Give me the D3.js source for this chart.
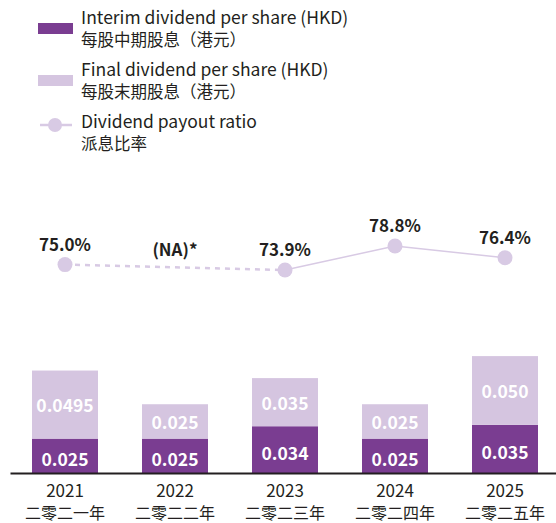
<!DOCTYPE html>
<html>
<head>
<meta charset="utf-8">
<script src="https://cdn.jsdelivr.net/npm/d3@7"></script>
<style>
  body { margin: 0; background: #fff; }
  svg { display: block; font-family: "Noto Sans CJK SC", "Noto Sans", sans-serif; }
</style>
</head>
<body>
<svg id="chart" width="556" height="523"></svg>
<script>
const years = ["2021", "2022", "2023", "2024", "2025"];
const yearsZh = ["二零二一年", "二零二二年", "二零二三年", "二零二四年", "二零二五年"];
const interim = [0.025, 0.025, 0.034, 0.025, 0.035];
const finalDiv = [0.0495, 0.025, 0.035, 0.025, 0.050];
const interimLabels = ["0.025", "0.025", "0.034", "0.025", "0.035"];
const finalLabels = ["0.0495", "0.025", "0.035", "0.025", "0.050"];
const payout = [75.0, null, 73.9, 78.8, 76.4];
const payoutLabels = ["75.0%", "(NA)*", "73.9%", "78.8%", "76.4%"];

const theme = {
  interim: "#7a3d91",
  final: "#d5c5e0",
  line: "#d8cae4",
  text: "#231f20"
};

const svg = d3.select("#chart");

// x band scale for years
const x = d3.scaleBand().domain(years).range([10, 560]).paddingInner(0.4).paddingOuter(0.2);

// y scale for dividend amounts
const y = d3.scaleLinear().domain([0, 0.085]).range([473, 356.1]);

// y scale for payout ratio
const yRatio = d3.scaleLinear().domain([73.9, 78.8]).range([270, 246]);

const rows = years.map((yr, i) => ({
  year: yr,
  interim: interim[i],
  final: finalDiv[i],
  interimLabel: interimLabels[i],
  finalLabel: finalLabels[i]
}));

// Stacked bars
const bars = svg.append("g").attr("class", "bars");

bars.selectAll(".bar-interim")
  .data(rows)
  .enter()
  .append("rect")
  .attr("class", "bar-interim")
  .attr("x", (d) => x(d.year))
  .attr("width", x.bandwidth())
  .attr("y", (d) => y(d.interim))
  .attr("height", (d) => y(0) - y(d.interim))
  .attr("fill", theme.interim);

bars.selectAll(".bar-final")
  .data(rows)
  .enter()
  .append("rect")
  .attr("class", "bar-final")
  .attr("x", (d) => x(d.year))
  .attr("width", x.bandwidth())
  .attr("y", (d) => y(d.interim + d.final))
  .attr("height", (d) => y(d.interim) - y(d.interim + d.final))
  .attr("fill", theme.final);

// Bar value labels
bars.selectAll(".lbl-interim")
  .data(rows)
  .enter()
  .append("text")
  .attr("class", "lbl-interim")
  .attr("x", (d) => x(d.year) + x.bandwidth() / 2)
  .attr("y", (d) => (y(0) + y(d.interim)) / 2 + 10)
  .attr("text-anchor", "middle")
  .attr("fill", "#fff")
  .style("font-size", "17.5px")
  .style("font-weight", "bold")
  .text((d) => d.interimLabel);

bars.selectAll(".lbl-final")
  .data(rows)
  .enter()
  .append("text")
  .attr("class", "lbl-final")
  .attr("x", (d) => x(d.year) + x.bandwidth() / 2)
  .attr("y", (d) => (y(d.interim) + y(d.interim + d.final)) / 2 + 7.5)
  .attr("text-anchor", "middle")
  .attr("fill", "#fff")
  .style("font-size", "17.5px")
  .style("font-weight", "bold")
  .text((d) => d.finalLabel);

// X axis
const xAxis = svg.append("g")
  .attr("class", "x-axis")
  .attr("transform", `translate(0,${y(0)})`)
  .call(d3.axisBottom(x).tickSize(0).tickSizeOuter(0));

xAxis.select(".domain").attr("stroke", theme.text).attr("stroke-width", 2);

xAxis.selectAll(".tick text").each(function (d, i) {
  const t = d3.select(this)
    .attr("y", 0)
    .attr("dy", null)
    .attr("fill", theme.text)
    .style("font-family", '"Noto Sans CJK SC", sans-serif')
    .text(null);
  t.append("tspan").attr("x", 0).attr("y", 24).style("font-size", "17px").text(d);
  t.append("tspan").attr("x", 0).attr("y", 45.5).style("font-size", "16px").text(yearsZh[i]);
});

// Payout ratio line
const pts = years.map((yr, i) => ({ year: yr, value: payout[i], label: payoutLabels[i] }));
const known = pts.filter((d) => d.value !== null);
const cx = (d) => x(d.year) + x.bandwidth() / 2;

const line = d3.line().x(cx).y((d) => yRatio(d.value));

// dashed across the missing year
svg.append("path")
  .datum([known[0], known[1]])
  .attr("fill", "none")
  .attr("stroke", theme.line)
  .attr("stroke-width", 2.5)
  .attr("stroke-dasharray", "5,5")
  .attr("d", line);

svg.append("path")
  .datum(known.slice(1))
  .attr("fill", "none")
  .attr("stroke", theme.line)
  .attr("stroke-width", 1.5)
  .attr("d", line);

svg.selectAll(".dot")
  .data(known)
  .enter()
  .append("circle")
  .attr("class", "dot")
  .attr("cx", cx)
  .attr("cy", (d) => yRatio(d.value))
  .attr("r", 7.5)
  .attr("fill", theme.line);

// ratio labels
svg.selectAll(".ratio-label")
  .data(pts)
  .enter()
  .append("text")
  .attr("class", "ratio-label")
  .attr("x", cx)
  .attr("y", (d, i) => {
    if (d.value !== null) return yRatio(d.value) - 14;
    // NA: sit above the dashed segment
    return (yRatio(pts[i - 1].value) + yRatio(pts[i + 1].value)) / 2 - 11;
  })
  .attr("text-anchor", "middle")
  .attr("fill", theme.text)
  .style("font-size", "17px")
  .style("font-weight", "bold")
  .text((d) => d.label);

// Legend
const legend = svg.append("g").attr("class", "legend");
const legendItems = [
  { en: "Interim dividend per share (HKD)", zh: "每股中期股息（港元）", type: "bar", color: theme.interim, top: 24 },
  { en: "Final dividend per share (HKD)", zh: "每股末期股息（港元）", type: "bar", color: theme.final, top: 76 },
  { en: "Dividend payout ratio", zh: "派息比率", type: "line", color: theme.line, top: 128 }
];

legendItems.forEach((it) => {
  const g = legend.append("g");
  if (it.type === "bar") {
    g.append("rect")
      .attr("x", 38)
      .attr("y", it.top - 1)
      .attr("width", 35)
      .attr("height", 11)
      .attr("fill", it.color);
  } else {
    g.append("line")
      .attr("x1", 40).attr("x2", 72)
      .attr("y1", it.top - 3).attr("y2", it.top - 3)
      .attr("stroke", it.color)
      .attr("stroke-width", 2.5);
    g.append("circle")
      .attr("cx", 55).attr("cy", it.top - 3).attr("r", 7)
      .attr("fill", it.color);
  }
  g.append("text")
    .attr("x", 81).attr("y", it.top)
    .attr("fill", theme.text)
    .style("font-size", "17.5px")
    .text(it.en);
  g.append("text")
    .attr("x", 81).attr("y", it.top + 21.5)
    .attr("fill", theme.text)
    .style("font-size", "16.5px")
    .text(it.zh);
});
</script>
</body>
</html>
